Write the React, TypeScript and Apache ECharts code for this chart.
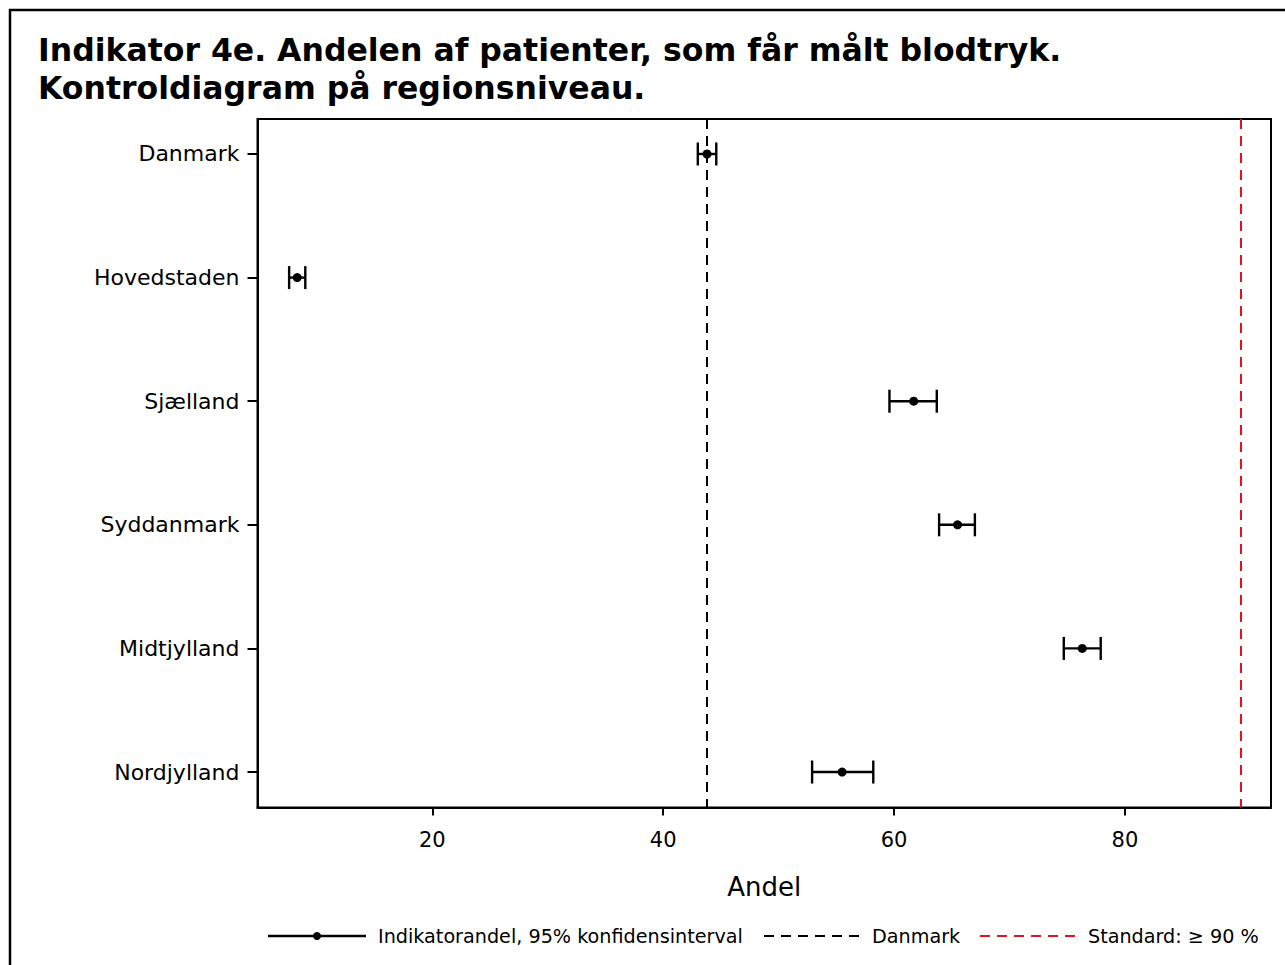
import React, { useEffect, useRef } from "react";
import * as echarts from "echarts";

const categories = ["Danmark", "Hovedstaden", "Sjælland", "Syddanmark", "Midtjylland", "Nordjylland"];
const estimates = [43.8, 8.3, 61.7, 65.5, 76.3, 55.5];
const lower = [43.0, 7.6, 59.6, 63.9, 74.7, 52.9];
const upper = [44.6, 9.0, 63.7, 67.0, 77.9, 58.2];
const xTicks = [20, 40, 60, 80];
const danmarkValue = 43.8;
const standardValue = 90;
const titleLines = [
  "Indikator 4e. Andelen af patienter, som får målt blodtryk.",
  "Kontroldiagram på regionsniveau.",
];
const legendLabels = ["Indikatorandel, 95% konfidensinterval", "Danmark", "Standard: ≥ 90 %"];

const FONT = "DejaVu Sans";

export default function App() {
  const ref = useRef<HTMLDivElement>(null);
  useEffect(() => {
    if (!ref.current) return;
    const chart = echarts.init(ref.current, null, { renderer: "svg" });
    const data = categories.map((_, i) => [estimates[i], i, lower[i], upper[i]]);
    const option: any = {
      animation: false,
      backgroundColor: "#fff",
      grid: {
        left: 257.5,
        right: 14,
        top: 119,
        bottom: 157.5,
        show: true,
        borderColor: "#000",
        borderWidth: 2,
        containLabel: false,
      },
      xAxis: {
        type: "value",
        min: 4.86,
        max: 92.65,
        splitLine: { show: false },
        axisLine: { show: true, onZero: false, lineStyle: { color: "#000", width: 2 } },
        axisTick: { show: true, length: 8, customValues: xTicks, lineStyle: { color: "#000", width: 2 } },
        axisLabel: {
          customValues: xTicks,
          color: "#000",
          fontFamily: FONT,
          fontSize: 21,
          margin: 22,
        },
        name: "Andel",
        nameLocation: "middle",
        nameGap: 66,
        nameTextStyle: { color: "#000", fontFamily: FONT, fontSize: 26 },
      },
      yAxis: {
        type: "value",
        inverse: true,
        min: -0.283,
        max: 5.287,
        splitLine: { show: false },
        axisLine: { show: true, onZero: false, lineStyle: { color: "#000", width: 2 } },
        axisTick: {
          show: true,
          length: 10,
          customValues: categories.map((_, i) => i),
          lineStyle: { color: "#000", width: 2 },
        },
        axisLabel: {
          customValues: categories.map((_, i) => i),
          formatter: (v: number) => categories[Math.round(v)] ?? "",
          color: "#000",
          fontFamily: FONT,
          fontSize: 22,
          margin: 18,
        },
      },
      series: [
        {
          type: "custom",
          data,
          renderItem: (params: any, api: any) => {
            const est = api.value(0);
            const idx = api.value(1);
            const lo = api.value(2);
            const hi = api.value(3);
            const pLo = api.coord([lo, idx]);
            const pHi = api.coord([hi, idx]);
            const pE = api.coord([est, idx]);
            const cap = 11.5;
            const style = { stroke: "#000", lineWidth: 2.4 };
            return {
              type: "group",
              children: [
                { type: "line", shape: { x1: pLo[0], y1: pLo[1], x2: pHi[0], y2: pHi[1] }, style },
                { type: "line", shape: { x1: pLo[0], y1: pLo[1] - cap, x2: pLo[0], y2: pLo[1] + cap }, style },
                { type: "line", shape: { x1: pHi[0], y1: pHi[1] - cap, x2: pHi[0], y2: pHi[1] + cap }, style },
                { type: "circle", shape: { cx: pE[0], cy: pE[1], r: 4.5 }, style: { fill: "#000" } },
              ],
            };
          },
          markLine: {
            silent: true,
            symbol: ["none", "none"],
            label: { show: false },
            data: [
              { xAxis: danmarkValue, lineStyle: { color: "#000", type: [10, 7], width: 2 } },
              { xAxis: standardValue, lineStyle: { color: "#e0141e", type: [10, 7], width: 2 } },
            ],
          },
          z: 5,
        },
      ],
      graphic: [
        {
          type: "rect",
          shape: { x: 10, y: 10, width: 1320, height: 1000 },
          style: { fill: "none", stroke: "#000", lineWidth: 2.5 },
          silent: true,
        },
        {
          type: "text",
          x: 38,
          y: 50,
          style: {
            text: titleLines[0],
            fontFamily: FONT,
            fontWeight: "bold",
            fontSize: 31.5,
            fill: "#000",
            verticalAlign: "middle",
          },
        },
        {
          type: "text",
          x: 38,
          y: 88,
          style: {
            text: titleLines[1],
            fontFamily: FONT,
            fontWeight: "bold",
            fontSize: 31.5,
            fill: "#000",
            verticalAlign: "middle",
          },
        },
        // legend
        { type: "line", shape: { x1: 268, y1: 936, x2: 366, y2: 936 }, style: { stroke: "#000", lineWidth: 2.4 } },
        { type: "circle", shape: { cx: 317, cy: 936, r: 4 }, style: { fill: "#000" } },
        {
          type: "text",
          x: 378,
          y: 936,
          style: { text: legendLabels[0], fontFamily: FONT, fontSize: 19.2, fill: "#000", verticalAlign: "middle" },
        },
        {
          type: "line",
          shape: { x1: 764, y1: 936, x2: 862, y2: 936 },
          style: { stroke: "#000", lineWidth: 2, lineDash: [10, 7] },
        },
        {
          type: "text",
          x: 872,
          y: 936,
          style: { text: legendLabels[1], fontFamily: FONT, fontSize: 19.2, fill: "#000", verticalAlign: "middle" },
        },
        {
          type: "line",
          shape: { x1: 980, y1: 936, x2: 1078, y2: 936 },
          style: { stroke: "#e0141e", lineWidth: 2, lineDash: [10, 7] },
        },
        {
          type: "text",
          x: 1088,
          y: 936,
          style: { text: legendLabels[2], fontFamily: FONT, fontSize: 19.2, fill: "#000", verticalAlign: "middle" },
        },
      ],
    };
    chart.setOption(option);
    return () => chart.dispose();
  }, []);
  return (
    <div
      ref={ref}
      style={{ position: "fixed", left: 0, top: 0, width: 1285, height: 965, background: "#fff" }}
    />
  );
}
